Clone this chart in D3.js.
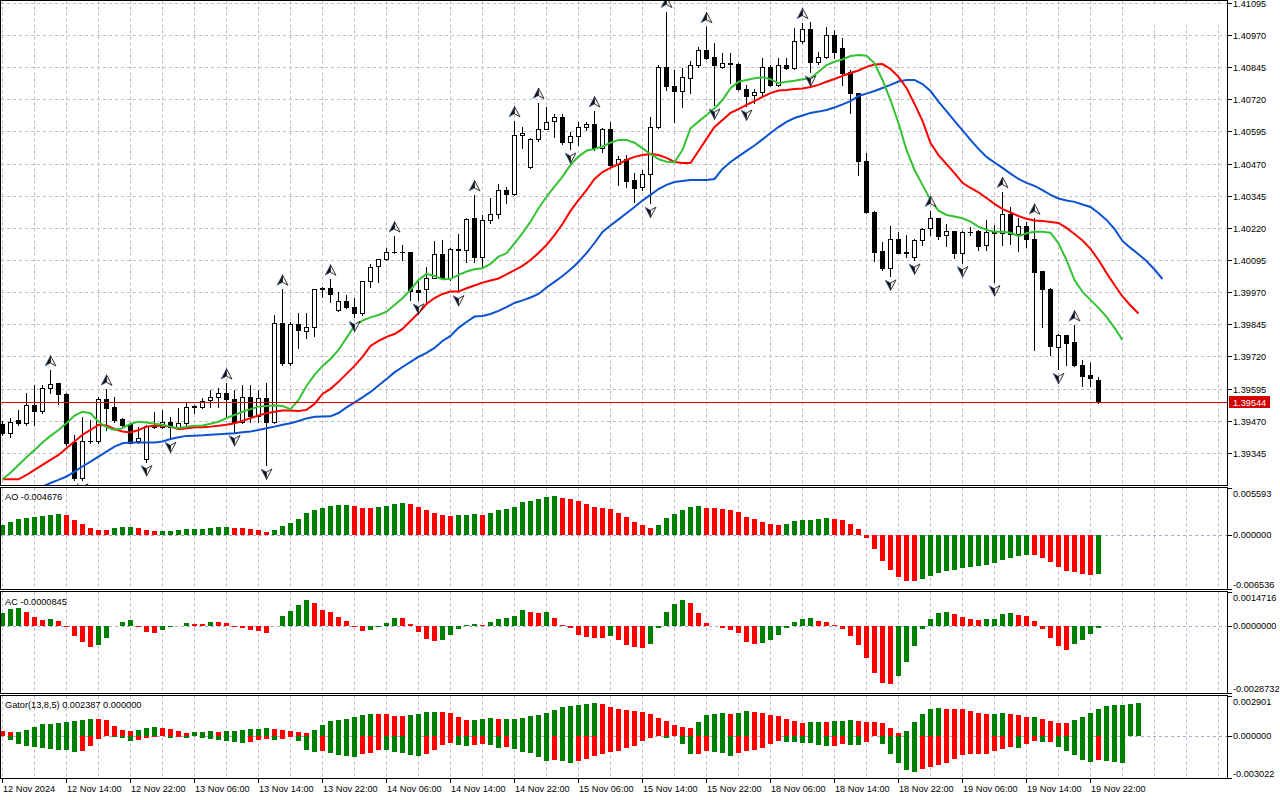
<!DOCTYPE html>
<html><head><meta charset="utf-8">
<script src="https://d3js.org/d3.v7.min.js"></script>
<style>
html,body{margin:0;padding:0;background:#fff;}
svg{display:block;}
text{font-family:"Liberation Sans",Arial,sans-serif;font-size:9.2px;fill:#000;}
</style></head><body>
<svg id="c" width="1280" height="800"></svg>
<script>
// ---------------- DATA ----------------
const priceRange = [1.39220, 1.41106];
const priceTicks = [1.41095,1.40970,1.40845,1.40720,1.40595,1.40470,1.40345,1.40220,1.40095,1.39970,1.39845,1.39720,1.39595,1.39470,1.39345];
const xTickIdx = [0,8,16,24,32,40,48,56,64,72,80,88,96,104,112,120,128,136];
const xTickLabels = ["12 Nov 2024","12 Nov 14:00","12 Nov 22:00","13 Nov 06:00","13 Nov 14:00","13 Nov 22:00","14 Nov 06:00","14 Nov 14:00","14 Nov 22:00","15 Nov 06:00","15 Nov 14:00","15 Nov 22:00","18 Nov 06:00","18 Nov 14:00","18 Nov 22:00","19 Nov 06:00","19 Nov 14:00","19 Nov 22:00"];

const open = [1.39456,1.39424,1.39473,1.39463,1.39531,1.39509,1.39596,1.39616,1.39574,1.39389,
1.39249,1.39391,1.39391,1.39555,1.39525,1.39477,1.39458,1.39391,1.39320,1.39446,
1.39447,1.39466,1.39447,1.39460,1.39525,1.39525,1.39551,1.39561,1.39577,1.39555,
1.39466,1.39564,1.39490,1.39557,1.39466,1.39849,1.39694,1.39846,1.39819,1.39834,
1.39986,1.39985,1.39901,1.39936,1.39911,1.39888,1.40012,1.40072,1.40098,1.40125,
1.40127,1.40126,1.39979,1.39981,1.40026,1.40117,1.40026,1.40134,1.40134,1.40257,
1.40108,1.40250,1.40273,1.40366,1.40351,1.40582,1.40456,1.40567,1.40606,1.40634,
1.40650,1.40553,1.40578,1.40611,1.40623,1.40529,1.40603,1.40467,1.40487,1.40406,
1.40378,1.40430,1.40611,1.40844,1.40773,1.40753,1.40804,1.40852,1.40910,1.40883,
1.40844,1.40860,1.40856,1.40759,1.40737,1.40748,1.40844,1.40776,1.40852,1.40840,
1.40947,1.40993,1.40866,1.40883,1.40970,1.40918,1.40827,1.40743,1.40481,1.40283,
1.40130,1.40065,1.40176,1.40124,1.40108,1.40173,1.40218,1.40257,1.40191,1.40208,
1.40121,1.40203,1.40208,1.40153,1.40203,1.40201,1.40274,1.40196,1.40229,1.40176,
1.40053,1.39981,1.39758,1.39804,1.39778,1.39687,1.39648,1.39629];
const high = [1.39469,1.39480,1.39512,1.39577,1.39609,1.39609,1.39667,1.39617,1.39577,1.39415,
1.39486,1.39473,1.39564,1.39592,1.39564,1.39480,1.39460,1.39446,1.39454,1.39505,
1.39512,1.39486,1.39519,1.39538,1.39531,1.39557,1.39590,1.39596,1.39616,1.39590,
1.39609,1.39609,1.39590,1.39616,1.39881,1.39981,1.39855,1.39888,1.39888,1.39982,
1.39991,1.40020,1.39971,1.39959,1.39946,1.40013,1.40078,1.40099,1.40141,1.40188,
1.40152,1.40128,1.40014,1.40067,1.40169,1.40172,1.40143,1.40195,1.40257,1.40348,
1.40270,1.40335,1.40389,1.40378,1.40636,1.40613,1.40569,1.40707,1.40691,1.40663,
1.40663,1.40594,1.40633,1.40633,1.40674,1.40607,1.40633,1.40500,1.40503,1.40432,
1.40445,1.40650,1.40853,1.41061,1.40834,1.40840,1.40870,1.40924,1.41002,1.40938,
1.40899,1.40899,1.40860,1.40776,1.40759,1.40879,1.40853,1.40879,1.40879,1.40996,
1.41018,1.41022,1.40905,1.41002,1.40989,1.40958,1.40834,1.40744,1.40510,1.40284,
1.40166,1.40227,1.40205,1.40192,1.40176,1.40218,1.40287,1.40258,1.40235,1.40209,
1.40208,1.40225,1.40212,1.40251,1.40231,1.40361,1.40302,1.40257,1.40244,1.40257,
1.40054,1.39985,1.39806,1.39805,1.39842,1.39706,1.39696,1.39639];
const low = [1.39415,1.39408,1.39454,1.39454,1.39454,1.39499,1.39579,1.39534,1.39376,1.39240,
1.39240,1.39382,1.39382,1.39434,1.39466,1.39447,1.39382,1.39382,1.39311,1.39441,
1.39442,1.39402,1.39441,1.39454,1.39499,1.39519,1.39525,1.39525,1.39486,1.39428,
1.39460,1.39466,1.39466,1.39298,1.39460,1.39687,1.39687,1.39752,1.39791,1.39800,
1.39952,1.39933,1.39897,1.39910,1.39872,1.39881,1.39989,1.40011,1.40095,1.40122,
1.40095,1.39940,1.39940,1.39929,1.40025,1.40024,1.40017,1.39972,1.40089,1.40089,
1.40063,1.40238,1.40257,1.40318,1.40348,1.40529,1.40452,1.40559,1.40603,1.40575,
1.40546,1.40527,1.40542,1.40601,1.40523,1.40516,1.40462,1.40387,1.40380,1.40322,
1.40367,1.40316,1.40607,1.40756,1.40633,1.40691,1.40743,1.40847,1.40875,1.40698,
1.40840,1.40782,1.40756,1.40694,1.40704,1.40730,1.40772,1.40772,1.40837,1.40837,
1.40938,1.40827,1.40857,1.40879,1.40879,1.40776,1.40666,1.40426,1.40279,1.40092,
1.40056,1.40033,1.40121,1.40108,1.40095,1.40153,1.40192,1.40177,1.40151,1.40102,
1.40085,1.40192,1.40134,1.40134,1.40011,1.40153,1.40157,1.40131,1.40147,1.39745,
1.39834,1.39726,1.39670,1.39687,1.39683,1.39606,1.39606,1.39538];
const close = [1.39424,1.39466,1.39463,1.39531,1.39509,1.39596,1.39612,1.39573,1.39385,1.39249,
1.39391,1.39392,1.39555,1.39521,1.39473,1.39454,1.39385,1.39403,1.39450,1.39449,
1.39466,1.39447,1.39460,1.39525,1.39527,1.39548,1.39564,1.39577,1.39555,1.39466,
1.39564,1.39490,1.39557,1.39466,1.39849,1.39694,1.39846,1.39823,1.39834,1.39981,
1.39983,1.39963,1.39936,1.39914,1.39888,1.40012,1.40067,1.40098,1.40125,1.40127,
1.40126,1.39976,1.39972,1.40026,1.40117,1.40026,1.40137,1.40136,1.40253,1.40108,
1.40250,1.40273,1.40366,1.40351,1.40580,1.40588,1.40567,1.40606,1.40631,1.40650,
1.40553,1.40577,1.40613,1.40623,1.40529,1.40603,1.40465,1.40487,1.40403,1.40376,
1.40430,1.40611,1.40844,1.40773,1.40753,1.40806,1.40852,1.40910,1.40879,1.40852,
1.40860,1.40858,1.40759,1.40733,1.40748,1.40844,1.40776,1.40852,1.40840,1.40947,
1.40993,1.40866,1.40883,1.40970,1.40905,1.40821,1.40743,1.40481,1.40283,1.40127,
1.40063,1.40176,1.40124,1.40127,1.40173,1.40214,1.40257,1.40190,1.40209,1.40121,
1.40203,1.40205,1.40151,1.40203,1.40200,1.40274,1.40196,1.40229,1.40176,1.40050,
1.39981,1.39761,1.39804,1.39774,1.39687,1.39645,1.39635,1.39544];

// Alligator (jaw shifted 8, teeth 5, lips 3 bars into the future)
const jawStart = 4;
const jaw = [1.39193,1.39213,1.39228,1.39240,1.39253,1.39272,1.39292,1.39311,1.39330,1.39350,
1.39369,1.39382,1.39385,1.39385,1.39385,1.39385,1.39389,1.39399,1.39406,1.39411,
1.39412,1.39413,1.39415,1.39417,1.39419,1.39421,1.39425,1.39428,1.39434,1.39441,
1.39447,1.39454,1.39460,1.39469,1.39479,1.39485,1.39486,1.39487,1.39500,1.39522,
1.39541,1.39561,1.39582,1.39607,1.39632,1.39658,1.39679,1.39699,1.39718,1.39734,
1.39753,1.39780,1.39800,1.39831,1.39854,1.39875,1.39877,1.39885,1.39897,1.39912,
1.39928,1.39938,1.39949,1.39963,1.39988,1.40010,1.40033,1.40058,1.40087,1.40122,
1.40161,1.40204,1.40229,1.40253,1.40277,1.40301,1.40326,1.40348,1.40371,1.40387,
1.40398,1.40402,1.40406,1.40406,1.40406,1.40410,1.40449,1.40476,1.40498,1.40519,
1.40540,1.40564,1.40589,1.40612,1.40632,1.40647,1.40657,1.40667,1.40672,1.40678,
1.40688,1.40700,1.40713,1.40733,1.40742,1.40752,1.40764,1.40776,1.40789,1.40795,
1.40795,1.40779,1.40752,1.40711,1.40674,1.40636,1.40599,1.40562,1.40527,1.40496,
1.40474,1.40453,1.40431,1.40410,1.40395,1.40383,1.40367,1.40348,1.40334,1.40326,
1.40321,1.40311,1.40301,1.40278,1.40251,1.40216,1.40169,1.40142,1.40117,1.40091,
1.40058,1.40021];
const teethStart = 0;
const teeth = [1.39242,1.39242,1.39242,1.39259,1.39279,1.39298,1.39318,1.39337,1.39363,1.39389,
1.39415,1.39434,1.39454,1.39451,1.39438,1.39428,1.39424,1.39434,1.39447,1.39450,
1.39450,1.39447,1.39437,1.39441,1.39445,1.39445,1.39447,1.39450,1.39454,1.39460,
1.39469,1.39480,1.39490,1.39499,1.39505,1.39510,1.39510,1.39508,1.39512,1.39535,
1.39574,1.39594,1.39621,1.39652,1.39683,1.39718,1.39761,1.39780,1.39796,1.39807,
1.39827,1.39858,1.39889,1.39924,1.39947,1.39963,1.39972,1.39972,1.39985,1.39996,
1.40007,1.40015,1.40023,1.40039,1.40056,1.40072,1.40095,1.40122,1.40153,1.40192,
1.40235,1.40286,1.40328,1.40367,1.40410,1.40437,1.40453,1.40468,1.40484,1.40496,
1.40503,1.40507,1.40503,1.40492,1.40476,1.40472,1.40472,1.40519,1.40566,1.40612,
1.40639,1.40667,1.40682,1.40698,1.40713,1.40729,1.40744,1.40754,1.40756,1.40760,
1.40762,1.40768,1.40776,1.40788,1.40799,1.40811,1.40822,1.40832,1.40846,1.40855,
1.40857,1.40838,1.40807,1.40764,1.40702,1.40636,1.40550,1.40503,1.40468,1.40433,
1.40395,1.40375,1.40358,1.40336,1.40313,1.40293,1.40280,1.40266,1.40255,1.40249,
1.40247,1.40243,1.40239,1.40220,1.40196,1.40171,1.40138,1.40095,1.40045,1.39998,
1.39953,1.39918,1.39887];
const lipsStart = 0;
const lips = [1.39242,1.39268,1.39298,1.39328,1.39356,1.39385,1.39411,1.39434,1.39460,1.39490,
1.39505,1.39499,1.39466,1.39445,1.39434,1.39441,1.39458,1.39466,1.39463,1.39458,
1.39454,1.39447,1.39441,1.39447,1.39450,1.39451,1.39458,1.39466,1.39480,1.39492,
1.39505,1.39515,1.39525,1.39527,1.39529,1.39527,1.39515,1.39551,1.39605,1.39648,
1.39683,1.39710,1.39745,1.39792,1.39839,1.39859,1.39872,1.39881,1.39894,1.39920,
1.39946,1.39979,1.40017,1.40041,1.40033,1.40020,1.40021,1.40037,1.40050,1.40059,
1.40063,1.40080,1.40108,1.40121,1.40160,1.40199,1.40244,1.40296,1.40341,1.40380,
1.40419,1.40465,1.40497,1.40520,1.40527,1.40536,1.40551,1.40562,1.40562,1.40551,
1.40529,1.40507,1.40487,1.40477,1.40475,1.40523,1.40607,1.40633,1.40659,1.40685,
1.40717,1.40763,1.40788,1.40795,1.40802,1.40806,1.40798,1.40782,1.40788,1.40792,
1.40798,1.40802,1.40827,1.40853,1.40866,1.40875,1.40888,1.40892,1.40889,1.40860,
1.40795,1.40717,1.40627,1.40523,1.40445,1.40387,1.40328,1.40287,1.40270,1.40264,
1.40257,1.40244,1.40225,1.40212,1.40205,1.40205,1.40201,1.40188,1.40199,1.40205,
1.40205,1.40201,1.40160,1.40095,1.40017,1.39971,1.39940,1.39909,1.39874,1.39831,
1.39784];

// Fractals (bar indexes)
const fractalUp = [6,13,28,35,41,49,59,64,67,74,83,88,100,116,125,129,134];
const fractalDown = [10,18,21,29,33,44,52,57,71,81,89,93,101,111,114,120,124,132];

// Awesome Oscillator
const aoRange = [-0.006536, 0.005593];
const ao = [0.001100,0.001502,0.001810,0.001976,0.002094,0.002212,0.002366,0.002425,0.002283,0.001739,
0.001301,0.000793,0.000532,0.000497,0.000793,0.000852,0.000887,0.000793,0.000556,0.000390,
0.000426,0.000450,0.000556,0.000639,0.000662,0.000686,0.000793,0.000840,0.000875,0.000769,
0.000733,0.000627,0.000556,0.000272,0.000509,0.001029,0.001384,0.001810,0.002520,0.002958,
0.003159,0.003348,0.003454,0.003490,0.003348,0.003182,0.003135,0.003230,0.003395,0.003584,
0.003703,0.003584,0.003230,0.002875,0.002520,0.002283,0.002165,0.002283,0.002354,0.002401,
0.002378,0.002520,0.002875,0.002993,0.003230,0.003821,0.003939,0.004176,0.004495,0.004543,
0.004294,0.004176,0.003939,0.003584,0.003230,0.003111,0.002993,0.002520,0.002047,0.001455,
0.001100,0.000745,0.001100,0.001928,0.002401,0.002875,0.003324,0.003372,0.003135,0.003111,
0.003088,0.002875,0.002638,0.002047,0.001810,0.001455,0.001218,0.001100,0.001218,0.001573,
0.001739,0.001786,0.001834,0.001928,0.001810,0.001692,0.001218,0.000627,-0.000390,-0.001739,
-0.003159,-0.004223,-0.005051,-0.005501,-0.005548,-0.005288,-0.004933,-0.004578,-0.004342,-0.004223,
-0.003987,-0.003868,-0.003750,-0.003632,-0.003395,-0.003040,-0.002804,-0.002567,-0.002425,-0.002472,
-0.002804,-0.003277,-0.003868,-0.004342,-0.004460,-0.004637,-0.004815,-0.004676];

// Accelerator Oscillator
const acRange = [-0.0028732, 0.0014716];
const ac = [0.0005616,0.0007474,0.0007603,0.0005918,0.0004018,0.0002722,0.0002851,0.0002290,-0.0000302,-0.0004190,
-0.0006610,-0.0008942,-0.0008078,-0.0004882,0.0000130,0.0001858,0.0002462,-0.0000302,-0.0002722,-0.0002808,
-0.0001598,-0.0000562,0.0000086,0.0001426,0.0000994,0.0000907,0.0001858,0.0001771,0.0001426,-0.0000302,
-0.0000994,-0.0001598,-0.0002030,-0.0002894,-0.0000130,0.0004450,0.0006610,0.0008770,0.0010930,0.0009634,
0.0007042,0.0006178,0.0004018,0.0002290,-0.0000302,-0.0001901,-0.0001771,-0.0000562,0.0001426,0.0003586,
0.0003499,0.0000994,-0.0002722,-0.0005314,-0.0006178,-0.0005746,-0.0004018,-0.0001426,0.0000432,0.0000994,
0.0000432,0.0001858,0.0003154,0.0003586,0.0004450,0.0007042,0.0005832,0.0005702,0.0005789,0.0003586,
0.0000562,-0.0000994,-0.0004018,-0.0004795,-0.0004882,-0.0004968,-0.0004450,-0.0005746,-0.0007906,-0.0009115,
-0.0009245,-0.0007474,-0.0000864,0.0006178,0.0009202,0.0010930,0.0009634,0.0005746,0.0001426,-0.0000130,
-0.0000864,-0.0001858,-0.0003154,-0.0006610,-0.0007474,-0.0007042,-0.0005746,-0.0004018,-0.0000864,0.0001858,
0.0003154,0.0003586,0.0002290,0.0001858,0.0000432,-0.0001296,-0.0004450,-0.0007906,-0.0013522,-0.0020002,
-0.0024322,-0.0024754,-0.0021298,-0.0015250,-0.0008338,-0.0001426,0.0003154,0.0005702,0.0005789,0.0005314,
0.0004018,0.0003154,0.0002722,0.0003110,0.0003197,0.0005270,0.0005357,0.0004882,0.0004450,0.0002290,
-0.0001426,-0.0004882,-0.0008338,-0.0010066,-0.0007474,-0.0005746,-0.0003586,-0.0000845];

// Gator Oscillator
const gatorRange = [-0.003022, 0.002901];
const gatorUp = [0.000336,0.000286,0.000300,0.000407,0.000643,0.000857,0.000893,0.000914,0.001000,0.001107,
0.001128,0.001250,0.001235,0.001121,0.000714,0.000428,0.000336,0.000407,0.000550,0.000621,
0.000550,0.000478,0.000336,0.000193,0.000264,0.000321,0.000343,0.000328,0.000343,0.000400,
0.000414,0.000478,0.000536,0.000557,0.000478,0.000414,0.000400,0.000264,0.000250,0.000407,
0.000785,0.001050,0.001178,0.001200,0.001335,0.001478,0.001607,0.001592,0.001549,0.001442,
0.001428,0.001478,0.001549,0.001692,0.001756,0.001742,0.001621,0.001335,0.001121,0.001178,
0.001200,0.001264,0.001192,0.001207,0.001250,0.001271,0.001407,0.001478,0.001621,0.001835,
0.002049,0.002121,0.002249,0.002271,0.002335,0.002263,0.002049,0.001906,0.001849,0.001821,
0.001692,0.001549,0.001264,0.001050,0.000764,0.000628,0.000614,0.000978,0.001478,0.001607,
0.001628,0.001549,0.001621,0.001764,0.001714,0.001678,0.001478,0.001407,0.001192,0.001050,
0.000971,0.000985,0.001000,0.000978,0.001050,0.001107,0.001128,0.001057,0.001035,0.000978,
0.000907,0.000550,0.000193,0.000336,0.000978,0.001549,0.001906,0.001978,0.001964,0.001949,
0.001906,0.001764,0.001621,0.001549,0.001607,0.001664,0.001571,0.001499,0.001357,0.001371,
0.001214,0.001071,0.000935,0.000928,0.001142,0.001357,0.001642,0.001928,0.002142,0.002213,
0.002228,0.002285,0.002387];
const gatorDown = [0,-0.000307,-0.000550,-0.000714,-0.000807,-0.000828,-0.000950,-0.001000,-0.001021,-0.001107,
-0.001092,-0.000714,-0.000236,-0.000021,-0.000071,-0.000143,-0.000378,-0.000307,-0.000143,-0.000071,
-0.000021,-0.000143,-0.000071,-0.000143,-0.000014,-0.000143,-0.000236,-0.000307,-0.000378,-0.000443,
-0.000457,-0.000443,-0.000307,-0.000236,-0.000307,-0.000236,-0.000071,-0.000378,-0.001021,-0.001164,
-0.001092,-0.001235,-0.001371,-0.001385,-0.001521,-0.001250,-0.001228,-0.001000,-0.001021,-0.001142,
-0.001214,-0.001378,-0.001449,-0.001285,-0.001021,-0.000664,-0.000521,-0.000664,-0.000735,-0.000664,
-0.000593,-0.000664,-0.000878,-0.000807,-0.000950,-0.001164,-0.001235,-0.001521,-0.001806,-0.001735,
-0.001806,-0.001949,-0.001806,-0.001621,-0.001449,-0.001285,-0.001164,-0.001092,-0.000878,-0.000735,
-0.000378,-0.000143,-0.000007,-0.000143,-0.000007,-0.000593,-0.001307,-0.001292,-0.001092,-0.001164,
-0.001235,-0.001449,-0.001235,-0.001092,-0.001021,-0.000878,-0.000593,-0.000336,-0.000428,-0.000443,
-0.000457,-0.000521,-0.000664,-0.000735,-0.000721,-0.000593,-0.000607,-0.000621,-0.000450,-0.000007,
-0.000593,-0.001307,-0.001949,-0.002449,-0.002592,-0.002378,-0.002235,-0.002092,-0.001949,-0.001664,
-0.001378,-0.001307,-0.001299,-0.001292,-0.001092,-0.000928,-0.000764,-0.000835,-0.000550,-0.000336,
-0.000407,-0.000400,-0.000764,-0.001050,-0.001335,-0.001692,-0.001835,-0.001692,-0.001764,-0.001835,
-0.001906];

const aoLabel = "AO -0.004676";
const acLabel = "AC -0.0000845";
const gatorLabel = "Gator(13,8,5) 0.002387 0.000000";
const aoTickLabels = ["0.005593","0.000000","-0.006536"];
const acTickLabels = ["0.0014716","0.0000000","-0.0028732"];
const gatorTickLabels = ["0.002901","0.000000","-0.003022"];

// ---------------- DRAWING ----------------
const GREEN = "#008000", RED = "#ff0000";
const svg = d3.select("#c");
const RIGHT = 1227.5;
const panes = {
  main:  {top:0.5,   bottom:485.5},
  ao:    {top:487.5, bottom:589.5},
  ac:    {top:591.5, bottom:693.5},
  gator: {top:695.5, bottom:778.5}
};
const x = d3.scaleLinear().domain([0, 1]).range([2.5, 10.5]);
const y = d3.scaleLinear().domain([priceRange[1], priceRange[0]]).range([0, 485]);
const yAO = d3.scaleLinear().domain(aoRange).range([panes.ao.bottom, panes.ao.top]);
const yAC = d3.scaleLinear().domain(acRange).range([panes.ac.bottom, panes.ac.top]);
const yG = d3.scaleLinear().domain(gatorRange).range([panes.gator.bottom, panes.gator.top]);
const crisp = v => Math.round(v) + 0.5;

const defs = svg.append("defs");
Object.entries(panes).forEach(([k, p]) => {
  defs.append("clipPath").attr("id", "clip-" + k).append("rect")
    .attr("x", 1).attr("y", p.top + 0.5).attr("width", RIGHT - 1.5).attr("height", p.bottom - p.top - 1);
});

svg.append("rect").attr("width", 1280).attr("height", 800).attr("fill", "#fff");

// vertical grid in every pane
const gridIdx = d3.range(0, 153, 4);
Object.entries(panes).forEach(([k, p]) => {
  svg.append("g").attr("clip-path", "url(#clip-" + k + ")")
    .selectAll("line").data(gridIdx).join("line")
    .attr("x1", d => x(d)).attr("x2", d => x(d))
    .attr("y1", p.top).attr("y2", p.bottom)
    .attr("stroke", "#c6b6c6").attr("stroke-dasharray", "3,3");
});
// horizontal grid in main pane
svg.append("g").attr("clip-path", "url(#clip-main)")
  .selectAll("line").data(priceTicks).join("line")
  .attr("x1", 1).attr("x2", RIGHT)
  .attr("y1", d => crisp(y(d))).attr("y2", d => crisp(y(d)))
  .attr("stroke", "#b6c4b6").attr("stroke-dasharray", "3,3");
// blank corner top-right (no grid there)
svg.append("rect").attr("x", 1151).attr("y", 4.5).attr("width", 76).attr("height", 20).attr("fill", "#fff");

// zero lines for indicator panes
[[yAO, "ao"], [yAC, "ac"], [yG, "gator"]].forEach(([s, k]) => {
  svg.append("line").attr("x1", 1).attr("x2", RIGHT)
    .attr("y1", crisp(s(0))).attr("y2", crisp(s(0)))
    .attr("stroke", "#aaaac8").attr("stroke-dasharray", "3,3");
});

// candles
const cg = svg.append("g").attr("clip-path", "url(#clip-main)");
const idx = d3.range(open.length);
cg.selectAll("line.wick").data(idx).join("line").attr("class", "wick")
  .attr("x1", i => x(i)).attr("x2", i => x(i))
  .attr("y1", i => Math.round(y(high[i]))).attr("y2", i => Math.round(y(low[i])) + 1)
  .attr("stroke", "#000").attr("stroke-width", 1);
idx.forEach(i => {
  const yo = y(open[i]), yc = y(close[i]);
  const t = Math.round(Math.min(yo, yc)), b = Math.round(Math.max(yo, yc));
  const cx = x(i);
  if (b - t < 1) {
    cg.append("line").attr("x1", cx - 2.5).attr("x2", cx + 2.5)
      .attr("y1", t + 0.5).attr("y2", t + 0.5).attr("stroke", "#000");
  } else if (close[i] >= open[i]) {
    cg.append("rect").attr("x", cx - 2).attr("y", t + 0.5).attr("width", 4).attr("height", b - t)
      .attr("fill", "#fff").attr("stroke", "#000").attr("stroke-width", 1);
  } else {
    cg.append("rect").attr("x", cx - 2.5).attr("y", t).attr("width", 5).attr("height", b - t + 1)
      .attr("fill", "#000");
  }
});

// alligator
const lineGen = start => d3.line().x((d, j) => x(j + start)).y(d => y(d));
cg.append("path").datum(jaw).attr("d", lineGen(jawStart))
  .attr("fill", "none").attr("stroke", "#0d52d2").attr("stroke-width", 2);
cg.append("path").datum(teeth).attr("d", lineGen(teethStart))
  .attr("fill", "none").attr("stroke", "#ff0000").attr("stroke-width", 2);
cg.append("path").datum(lips).attr("d", lineGen(lipsStart))
  .attr("fill", "none").attr("stroke", "#33c233").attr("stroke-width", 2);

// fractal arrows
function arrow(g, cx, cy, up) {
  const s = up ? 1 : -1;
  g.append("path").attr("d", `M${cx},${cy - 5.5 * s} L${cx - 5.5},${cy + 5 * s} L${cx},${cy + 2 * s} Z`)
    .attr("fill", "#111").attr("stroke", "#4a6aa8").attr("stroke-width", 0.6);
  g.append("path").attr("d", `M${cx},${cy - 5.5 * s} L${cx + 5.5},${cy + 5 * s} L${cx},${cy + 2 * s} Z`)
    .attr("fill", "#f2f2f2").attr("stroke", "#222").attr("stroke-width", 0.9);
}
fractalUp.forEach(i => arrow(cg, x(i), y(high[i]) - 9, true));
fractalDown.forEach(i => arrow(cg, x(i), y(low[i]) + 9, false));

// current price line
const lastY = crisp(y(close[close.length - 1]));
svg.append("line").attr("x1", 1).attr("x2", RIGHT).attr("y1", lastY).attr("y2", lastY)
  .attr("stroke", "#e00000").attr("stroke-width", 1);

// indicator histograms
function histogram(key, values, scale, colorOf) {
  const g = svg.append("g").attr("clip-path", "url(#clip-" + key + ")");
  const z = Math.round(scale(0));
  g.selectAll("rect").data(values).join("rect")
    .attr("x", (d, i) => x(i) - 2.5)
    .attr("width", 5)
    .attr("y", d => Math.min(z, Math.round(scale(d))))
    .attr("height", d => Math.abs(Math.round(scale(d)) - z))
    .attr("fill", (d, i) => colorOf(d, i));
}
histogram("ao", ao, yAO, (d, i) => i === 0 || d > ao[i - 1] ? GREEN : RED);
histogram("ac", ac, yAC, (d, i) => i === 0 || d > ac[i - 1] ? GREEN : RED);
histogram("gator", gatorUp, yG, (d, i) => i > 0 && d > gatorUp[i - 1] ? GREEN : RED);
histogram("gator", gatorDown, yG, (d, i) => i > 0 && Math.abs(d) > Math.abs(gatorDown[i - 1]) ? GREEN : RED);

// pane frames
Object.values(panes).forEach(p => {
  svg.append("rect").attr("x", 0.5).attr("y", p.top).attr("width", RIGHT - 0.5).attr("height", p.bottom - p.top)
    .attr("fill", "none").attr("stroke", "#000").attr("stroke-width", 1);
});

// price axis
const axis = svg.append("g");
priceTicks.forEach(p => {
  const yy = crisp(y(p));
  axis.append("line").attr("x1", RIGHT).attr("x2", 1232).attr("y1", yy).attr("y2", yy).attr("stroke", "#000");
  axis.append("text").attr("x", 1233).attr("y", yy).attr("dy", "0.36em").text(p.toFixed(5));
});
// current price tag
svg.append("rect").attr("x", 1229).attr("y", lastY - 6.5).attr("width", 41).attr("height", 12).attr("fill", "#d40000");
svg.append("text").attr("x", 1233).attr("y", lastY).attr("dy", "0.36em").style("fill", "#fff")
  .text(close[close.length - 1].toFixed(5));

// indicator axes
function paneAxis(scale, range, labels, key) {
  const p = panes[key];
  const ys = [p.top, scale(0), p.bottom];
  const ty = [p.top + 6, scale(0), p.bottom - 5];
  ys.forEach((v, k) => {
    axis.append("line").attr("x1", RIGHT).attr("x2", 1232).attr("y1", crisp(v) - (k === 2 ? 1 : 0)).attr("y2", crisp(v) - (k === 2 ? 1 : 0)).attr("stroke", "#000");
    axis.append("text").attr("x", 1233).attr("y", ty[k]).attr("dy", "0.36em").text(labels[k]);
  });
}
paneAxis(yAO, aoRange, aoTickLabels, "ao");
paneAxis(yAC, acRange, acTickLabels, "ac");
paneAxis(yG, gatorRange, gatorTickLabels, "gator");

// pane titles
svg.append("text").attr("x", 5).attr("y", 500).text(aoLabel);
svg.append("text").attr("x", 5).attr("y", 604.5).text(acLabel);
svg.append("text").attr("x", 5).attr("y", 708).text(gatorLabel);

// time axis
xTickIdx.forEach((i, k) => {
  axis.append("line").attr("x1", x(i)).attr("x2", x(i)).attr("y1", 778.5).attr("y2", 783).attr("stroke", "#000");
  axis.append("text").attr("x", x(i) + 0.5).attr("y", 792).text(xTickLabels[k]);
});
</script></body></html>
